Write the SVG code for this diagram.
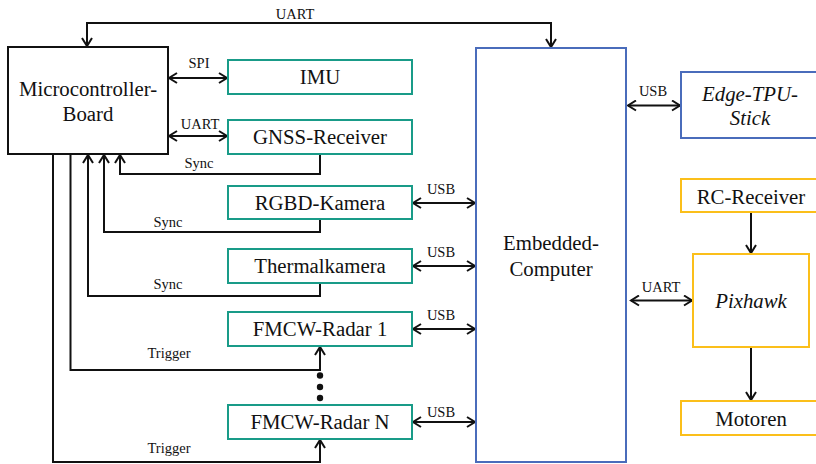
<svg xmlns="http://www.w3.org/2000/svg" width="816" height="464" viewBox="0 0 816 464">
<style>
.box{fill:#fff;stroke-width:2}
.k{stroke:#111}
.t{stroke:#199b88}
.b{stroke:#4a6cbb}
.y{stroke:#fbbf1a}
.lbl{font-family:'Liberation Serif','Tinos','Times New Roman','DejaVu Serif',serif;font-size:20.8px;fill:#111;text-anchor:middle}
.it{font-style:italic}
.sm{font-family:'Liberation Serif','Tinos','Times New Roman','DejaVu Serif',serif;font-size:14.5px;fill:#111;text-anchor:middle}
.c{fill:none;stroke:#111;stroke-width:2}
</style>
<defs>
<marker id="a" viewBox="-10 -6 12 12" refX="0" refY="0" markerWidth="12" markerHeight="12" markerUnits="userSpaceOnUse" orient="auto-start-reverse">
<path d="M-8,-5 L0,0 L-8,5" fill="none" stroke="#111" stroke-width="2"/>
</marker>
</defs>
<g id="connectors">
<path class="c" d="M87,46 V23 H551 V47" marker-start="url(#a)" marker-end="url(#a)"/>
<text class="sm" x="295" y="19">UART</text>
<path class="c" d="M169,78 H227" marker-start="url(#a)" marker-end="url(#a)"/>
<text class="sm" x="199" y="68">SPI</text>
<path class="c" d="M169,136 H227" marker-start="url(#a)" marker-end="url(#a)"/>
<text class="sm" x="200" y="129">UART</text>
<path class="c" d="M320,155 V174 H120 V155" marker-end="url(#a)"/>
<text class="sm" x="199" y="168">Sync</text>
<path class="c" d="M320,220 V232 H104 V155" marker-end="url(#a)"/>
<text class="sm" x="168" y="226.5">Sync</text>
<path class="c" d="M320,284 V296 H88 V155" marker-end="url(#a)"/>
<text class="sm" x="168" y="289">Sync</text>
<path class="c" d="M70.5,155 V370 H320 V347" marker-end="url(#a)"/>
<text class="sm" x="169" y="357.5">Trigger</text>
<path class="c" d="M53,155 V462 H320 V440" marker-end="url(#a)"/>
<text class="sm" x="169" y="453">Trigger</text>
<circle cx="320" cy="375.5" r="3.2" fill="#111"/>
<circle cx="320" cy="387" r="3.2" fill="#111"/>
<circle cx="320" cy="398" r="3.2" fill="#111"/>
<path class="c" d="M413,203 H475" marker-start="url(#a)" marker-end="url(#a)"/>
<text class="sm" x="441" y="194">USB</text>
<path class="c" d="M413,266 H475" marker-start="url(#a)" marker-end="url(#a)"/>
<text class="sm" x="441" y="256.5">USB</text>
<path class="c" d="M413,329 H475" marker-start="url(#a)" marker-end="url(#a)"/>
<text class="sm" x="441" y="320">USB</text>
<path class="c" d="M413,422 H475" marker-start="url(#a)" marker-end="url(#a)"/>
<text class="sm" x="441" y="416.5">USB</text>
<path class="c" d="M628,105.5 H680" marker-start="url(#a)" marker-end="url(#a)"/>
<text class="sm" x="653" y="95.5">USB</text>
<path class="c" d="M631,300.5 H692" marker-start="url(#a)" marker-end="url(#a)"/>
<text class="sm" x="661" y="292">UART</text>
<path class="c" d="M751,212 V253" marker-end="url(#a)"/>
<path class="c" d="M751,348 V400" marker-end="url(#a)"/>
</g>
<g id="microcontroller">
<rect class="box k" x="8" y="47" width="160" height="107"/>
<text class="lbl" x="88" y="96">Microcontroller-</text>
<text class="lbl" x="88" y="121">Board</text>
</g>
<g id="imu">
<rect class="box t" x="228" y="60" width="184" height="34"/>
<text class="lbl" x="320" y="84">IMU</text>
</g>
<g id="gnss">
<rect class="box t" x="228" y="120" width="184" height="34"/>
<text class="lbl" x="320" y="144">GNSS-Receiver</text>
</g>
<g id="rgbd">
<rect class="box t" x="228" y="186" width="184" height="33"/>
<text class="lbl" x="320" y="209.5">RGBD-Kamera</text>
</g>
<g id="thermal">
<rect class="box t" x="228" y="249" width="184" height="34"/>
<text class="lbl" x="320" y="273">Thermalkamera</text>
</g>
<g id="radar1">
<rect class="box t" x="228" y="312" width="184" height="34"/>
<text class="lbl" x="320" y="336">FMCW-Radar 1</text>
</g>
<g id="radarN">
<rect class="box t" x="228" y="405" width="184" height="34"/>
<text class="lbl" x="320" y="429">FMCW-Radar N</text>
</g>
<g id="embedded">
<rect class="box b" x="476" y="48" width="150" height="414"/>
<text class="lbl" x="551" y="250">Embedded-</text>
<text class="lbl" x="551" y="276">Computer</text>
</g>
<g id="edgetpu">
<rect class="box b" x="681" y="72" width="145" height="66"/>
<text class="lbl it" x="750" y="101">Edge-TPU-</text>
<text class="lbl it" x="750" y="125">Stick</text>
</g>
<g id="rc">
<rect class="box y" x="681" y="179" width="145" height="33"/>
<text class="lbl" x="751" y="204">RC-Receiver</text>
</g>
<g id="pixhawk">
<rect class="box y" x="693" y="254" width="116" height="93"/>
<text class="lbl it" x="751" y="308">Pixhawk</text>
</g>
<g id="motoren">
<rect class="box y" x="681" y="401" width="145" height="34"/>
<text class="lbl" x="751" y="426">Motoren</text>
</g>
</svg>
